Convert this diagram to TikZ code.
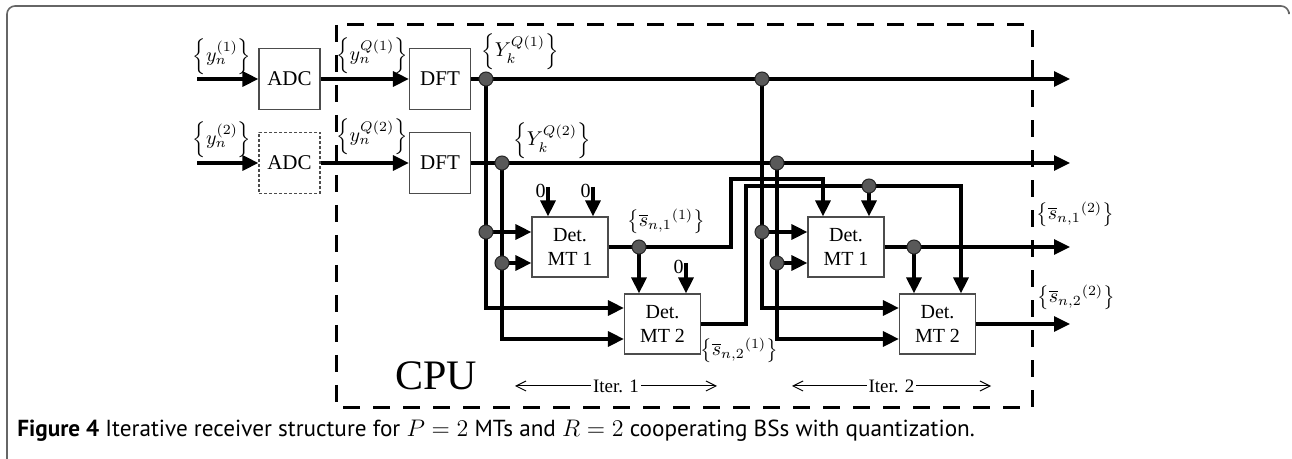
\documentclass[tikz,border=0pt]{standalone}
\usepackage{fontspec}
\setmainfont{Liberation Serif}
\newfontfamily\capfont{PT Sans}
\usetikzlibrary{arrows.meta,calc}

\begin{document}
\begin{tikzpicture}[x=0.5pt,y=-0.5pt,
  blk/.style={draw=black!70, line width=0.6pt, minimum width=30.5pt, minimum height=30.5pt, inner sep=0pt, font=\fontsize{10.5}{12}\selectfont},
  det/.style={draw=black!70, line width=0.6pt, minimum width=38pt, minimum height=30pt, inner sep=0pt, align=center, font=\fontsize{10}{12}\selectfont},
  wire/.style={line width=1.6pt},
  sig/.style={wire, -{Triangle[length=8pt,width=7.5pt]}},
  dot/.style={circle, draw=black!85, fill=black!65, line width=0.5pt, minimum size=7pt, inner sep=0pt},
  lbl/.style={inner sep=0pt, font=\fontsize{10}{12}\selectfont},
  iter/.style={line width=0.5pt, {Straight Barb[length=5pt,width=5pt]}-{Straight Barb[length=5pt,width=5pt]}},
  cpubox/.style={line width=1.5pt, dash pattern=on 8.5pt off 6.5pt}]
\useasboundingbox (0,0) rectangle (1292,459);
\draw[black!60, line width=0.8pt, rounded corners=4pt] (7,459) -- (7,6) -- (1289,6) -- (1289,12);
\draw[cpubox] (336,25) rectangle (1032,408);
\node[font=\fontsize{21}{24}\selectfont] (cpu) at (436,376) {CPU};

\node[blk] (adc1) at (289.5,79) {ADC};
\node[blk, dash pattern=on 1.5pt off 1pt] (adc2) at (289.5,163) {ADC};
\node[blk] (dft1) at (440,79) {DFT};
\node[blk] (dft2) at (440,163) {DFT};
\node[det] (det11) at (570,247) {Det.\\MT 1};
\node[det] (det12) at (662.5,324) {Det.\\MT 2};
\node[det] (det21) at (846,247) {Det.\\MT 1};
\node[det] (det22) at (937.5,324) {Det.\\MT 2};

\coordinate (in1) at (197,79);
\coordinate (in2) at (197,163);
\coordinate (out1) at (1070,79);
\coordinate (out2) at (1070,163);
\coordinate (out3) at (1070,247);
\coordinate (out4) at (1070,324);
\coordinate (ya1) at (486,79);
\coordinate (yb1) at (502,163);
\coordinate (ya2) at (762,79);
\coordinate (yb2) at (777,163);
\coordinate (ya1m) at (486,232);
\coordinate (yb1m) at (502,263);
\coordinate (ya2m) at (762,232);
\coordinate (yb2m) at (777,263);
\coordinate (s11) at (639,247);
\coordinate (s21) at (914,247);
\coordinate (s12) at (869,186);
\coordinate (up1) at (731,179);
\coordinate (up2) at (746,186);
\coordinate (tp1) at (823,179);
\coordinate (tp2) at (961,186);
\coordinate (z1) at (548,187);
\coordinate (z2) at (593,187);
\coordinate (z3) at (686,263);

\draw[sig] (in1) -- (adc1.west);
\draw[sig] (in2) -- (adc2.west);
\draw[sig] (adc1.east) -- (dft1.west);
\draw[sig] (adc2.east) -- (dft2.west);
\draw[sig] (dft1.east) -- (out1);
\draw[sig] (dft2.east) -- (out2);

\draw[sig] (ya1) |- ($(det12.west)+(0,-16)$);
\draw[sig] (yb1) |- ($(det12.west)+(0,15)$);
\draw[sig] (ya1m) -- (ya1m -| det11.west);
\draw[sig] (yb1m) -- (yb1m -| det11.west);
\draw[sig] (ya2) |- ($(det22.west)+(0,-16)$);
\draw[sig] (yb2) |- ($(det22.west)+(0,15)$);
\draw[sig] (ya2m) -- (ya2m -| det21.west);
\draw[sig] (yb2m) -- (yb2m -| det21.west);

\draw[sig] (z1) -- (z1 |- det11.north);
\draw[sig] (z2) -- (z2 |- det11.north);
\draw[sig] (z3) -- (z3 |- det12.north);
\node[lbl, anchor=north east] (zero1) at ($(z1)+(-2,-3)$) {0};
\node[lbl, anchor=north east] (zero2) at ($(z2)+(-2,-3)$) {0};
\node[lbl, anchor=north east] (zero3) at ($(z3)+(-2,-3)$) {0};

\draw[sig] (det11.east) -| (up1) -- (tp1) -- (tp1 |- det21.north);
\draw[sig] (s11) -- (s11 |- det12.north);
\draw[sig] (det12.east) -| (up2) -- (tp2) -- (tp2 |- det22.north);
\draw[sig] (s12) -- (s12 |- det21.north);
\draw[sig] (det21.east) -- (out3);
\draw[sig] (s21) -- (s21 |- det22.north);
\draw[sig] (det22.east) -- (out4);

\foreach \p in {ya1,yb1,ya2,yb2,ya1m,yb1m,ya2m,yb2m,s11,s21,s12}
  \node[dot] (dot-\p) at (\p) {};

\node[lbl] (ly1) at (222,57) {$\left\{y_n^{(1)}\right\}$};
\node[lbl] (ly2) at (222,140) {$\left\{y_n^{(2)}\right\}$};
\node[lbl] (lq1) at (372,56) {$\left\{y_n^{Q(1)}\right\}$};
\node[lbl] (lq2) at (372,137) {$\left\{y_n^{Q(2)}\right\}$};
\node[lbl] (lY1) at (520,52) {$\left\{Y_k^{Q(1)}\right\}$};
\node[lbl] (lY2) at (552,141) {$\left\{Y_k^{Q(2)}\right\}$};
\node[lbl] (ls11) at (666,221) {$\left\{\overline{s}_{n,1}{}^{(1)}\right\}$};
\node[lbl] (ls21) at (739,350) {$\left\{\overline{s}_{n,2}{}^{(1)}\right\}$};
\node[lbl] (ls12) at (1075,214) {$\left\{\overline{s}_{n,1}{}^{(2)}\right\}$};
\node[lbl] (ls22) at (1076,297) {$\left\{\overline{s}_{n,2}{}^{(2)}\right\}$};

\coordinate (it1a) at (515,386);
\coordinate (it1b) at (717,386);
\coordinate (it2a) at (792,386);
\coordinate (it2b) at (991,386);
\draw[iter] (it1a) -- node[fill=white, inner sep=1pt, font=\fontsize{9.5}{11}\selectfont] (iter1) {Iter. 1} (it1b);
\draw[iter] (it2a) -- node[fill=white, inner sep=1pt, font=\fontsize{9.5}{11}\selectfont] (iter2) {Iter. 2} (it2b);

\node[anchor=base west, inner sep=0pt, font=\capfont\fontsize{11.6}{13}\selectfont] (cap) at (17,437) {\textbf{Figure 4} Iterative receiver structure for $P=2$ MTs and $R=2$ cooperating BSs with quantization.};
\end{tikzpicture}
\end{document}
